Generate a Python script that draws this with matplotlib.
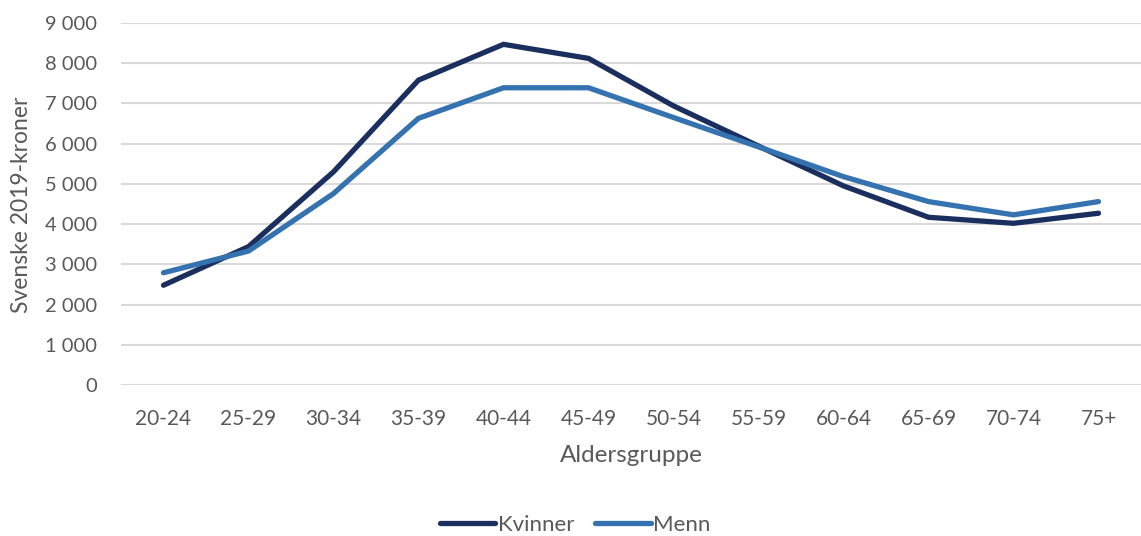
import matplotlib
matplotlib.use("Agg")
import matplotlib.pyplot as plt
from matplotlib.ticker import FuncFormatter

plt.rcParams['font.family'] = ['Lato', 'DejaVu Sans']

age_groups = ["20-24", "25-29", "30-34", "35-39", "40-44", "45-49",
              "50-54", "55-59", "60-64", "65-69", "70-74", "75+"]
kvinner = [2480, 3440, 5300, 7580, 8470, 8120, 6940, 5940, 4950, 4170, 4020, 4270]
menn = [2790, 3330, 4760, 6630, 7390, 7390, 6650, 5920, 5180, 4560, 4230, 4560]
y_ticks = [0, 1000, 2000, 3000, 4000, 5000, 6000, 7000, 8000, 9000]

text_color = "#595959"
grid_color = "#d9d9d9"
kvinner_color = "#1b2f5e"
menn_color = "#3572b0"

W, H = 1141, 536
fig = plt.figure(figsize=(W / 100, H / 100), dpi=100)
ax = fig.add_axes([121 / W, 1 - 385 / H, 1 - 121 / W, (385 - 23) / H])

x = list(range(len(age_groups)))
ax.plot(x, kvinner, color=kvinner_color, lw=3.8, solid_capstyle="round",
        solid_joinstyle="miter", label="Kvinner", zorder=3)
ax.plot(x, menn, color=menn_color, lw=3.8, solid_capstyle="round",
        solid_joinstyle="miter", label="Menn", zorder=3)

ax.set_xlim(-0.5, len(age_groups) - 0.5)
ax.set_ylim(0, 9000)
ax.set_yticks(y_ticks)
ax.yaxis.set_major_formatter(FuncFormatter(lambda v, p: f"{int(v):,}".replace(",", " ")))
ax.set_xticks(x)
ax.set_xticklabels(age_groups)

ax.grid(axis="y", color=grid_color, lw=1.5, zorder=0)
ax.set_axisbelow(True)
for s in ax.spines.values():
    s.set_visible(False)
ax.tick_params(axis="both", length=0, colors=text_color)
ax.tick_params(axis="x", pad=17, labelsize=15)
ax.tick_params(axis="y", pad=17, labelsize=14.5)

fig.text(631 / W, 1 - 456 / H, "Aldersgruppe", ha="center", va="center",
         fontsize=17.5, color=text_color)
fig.text(22 / W, 1 - 205 / H, "Svenske 2019-kroner", ha="center", va="center",
         rotation=90, fontsize=16.5, color=text_color)

leg = fig.legend(loc="center", bbox_to_anchor=(575 / W, 1 - 525 / H), ncol=2,
                 frameon=False, fontsize=16, handlelength=2.5, handletextpad=0.1,
                 columnspacing=0.95, labelcolor=text_color)

fig.savefig("out.png", dpi=100)
